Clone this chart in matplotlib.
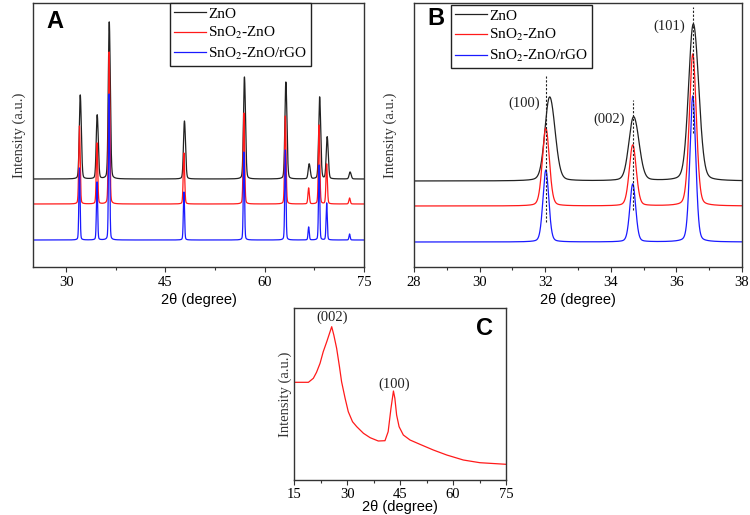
import numpy as np
import matplotlib
matplotlib.use('Agg')
import matplotlib.pyplot as plt
from matplotlib.ticker import MultipleLocator

plt.rcParams['font.family'] = ['Liberation Serif', 'DejaVu Serif']
plt.rcParams['mathtext.fontset'] = 'stix'

# ---------------- data ----------------
# Panels A/B: XRD reflections of ZnO (2θ in degrees) and peak heights (a.u.)
series_labels = ['ZnO', 'SnO$_2$-ZnO', 'SnO$_2$-ZnO/rGO']
peak_pos = [32.02, 34.67, 36.50, 47.80, 56.86, 63.12, 66.64, 68.22, 69.36, 72.82]
zno_pos = [32.10, 34.66, 36.48, 47.84, 56.90, 63.16, 66.68, 68.26, 69.40, 72.86]
zno_h = [84, 64, 157, 58, 102, 97, 15, 82, 42, 7]
sno2_zno_h = [78, 61, 152, 51, 91, 88, 16, 79, 40, 6]
sno2_zno_rgo_h = [72, 58, 146, 48, 88, 90, 13, 75, 37, 6]

# Panel B annotations
b_hkl = ['(100)', '(002)', '(101)']
b_hkl_x = [31.35, 33.95, 35.78]
b_hkl_y = [164, 148, 241]
b_ref_x = [32.02, 34.67, 36.50]
b_ref_y0 = [45, 57, 134]
b_ref_y1 = [191, 167, 260]

# Panel C: rGO pattern
c_x = [15, 19.0, 20.4, 21.3, 22.3, 23.2, 24.2, 25.6, 26.2, 27.0, 27.8, 28.4, 29.4,
       30.3, 31.5, 32.7, 34.6, 36.5, 38.8, 40.7, 41.6, 42.4, 43.1, 43.5, 44.0, 44.7,
       45.9, 47.8, 50.6, 54.4, 58.2, 62.9, 67.6, 75]
c_y = [97.7, 97.7, 101.7, 107.7, 116.7, 128.3, 138.3, 153.3, 145, 131.7, 113.3, 98.3,
       81.7, 68.3, 58.3, 53.3, 46.7, 42.3, 39, 39.3, 48.3, 71.7, 89, 81.7, 65, 53.3,
       45, 40, 35.7, 30, 25, 20, 17.3, 15.7]
c_hkl = ['(002)', '(100)']
c_hkl_x = [25.6, 43.3]
c_hkl_y = [162.7, 96]


# ---------------- helpers ----------------
def pv(x, c, fwhm, eta=0.2):
    d = (x - c) / fwhm
    return eta / (1 + 4 * d ** 2) + (1 - eta) * np.exp(-4 * np.log(2) * d ** 2)


def pattern(x, pos, heights, fwhm, ka2=0.0, ratio=0.0):
    y = np.zeros_like(x)
    for c, h in zip(pos, heights):
        xs = np.linspace(c - 1, c + 1, 4001)
        m = (pv(xs, c, fwhm) + ratio * pv(xs, c + ka2, fwhm)).max()
        y += h * (pv(x, c, fwhm) + ratio * pv(x, c + ka2, fwhm)) / m
    return y


BLACK = '#222222'
RED = '#ff1a1a'
BLUE = '#1a1aff'
SPINE = '#333333'

fig = plt.figure(figsize=(7.5, 5.15), dpi=100)
axA = fig.add_axes([33 / 750, 248 / 515, 331 / 750, 264 / 515])
axB = fig.add_axes([414 / 750, 248 / 515, 328 / 750, 264 / 515])
axC = fig.add_axes([294.3 / 750, 35 / 515, 211.7 / 750, 172 / 515])


def style(ax, xlim, major, minor, ylim, ylabelpad, xlabelpad, tickpad=2.5):
    ax.set_xlim(*xlim)
    ax.set_ylim(*ylim)
    ax.xaxis.set_major_locator(MultipleLocator(major))
    ax.xaxis.set_minor_locator(MultipleLocator(minor))
    ax.set_yticks([])
    ax.tick_params(axis='x', which='major', direction='out', length=3.8, width=0.8,
                   labelsize=10.5, pad=tickpad, color=SPINE)
    ax.tick_params(axis='x', which='minor', direction='out', length=2.2, width=0.8, color=SPINE)
    for s in ax.spines.values():
        s.set_color(SPINE)
        s.set_linewidth(1.0)
    ax.set_ylabel('Intensity (a.u.)', fontsize=10.5, labelpad=ylabelpad, color='#333333')
    ax.set_xlabel('2θ (degree)', fontsize=10.5, family=['Liberation Sans', 'DejaVu Sans'],
                  labelpad=xlabelpad)


def legend(ax, anchor):
    leg = ax.legend(loc='upper left', bbox_to_anchor=anchor, borderaxespad=0,
                    fontsize=11, frameon=True, fancybox=False, edgecolor='#222222',
                    framealpha=1, handlelength=2.1, handletextpad=0.15, labelspacing=0.3,
                    borderpad=0.3, borderaxespad_=None) if False else ax.legend(
        loc='upper left', bbox_to_anchor=anchor, borderaxespad=0,
        fontsize=11, frameon=True, fancybox=False, edgecolor='#222222',
        framealpha=1, handlelength=2.1, handletextpad=0.15, labelspacing=0.3,
        borderpad=0.25)
    leg.get_frame().set_linewidth(1.0)


BLACK_W, KA2, KA2_R = 0.31, 0.15, 0.5
RED_W, BLUE_W = 0.25, 0.21

# ---- Panel A ----
xa = np.linspace(25, 75, 20001)
offsA = [88, 63, 27]
axA.plot(xa, offsA[0] + pattern(xa, zno_pos, zno_h, BLACK_W, KA2, KA2_R), color=BLACK,
         lw=0.9, label=series_labels[0])
axA.plot(xa, offsA[1] + pattern(xa, peak_pos, sno2_zno_h, RED_W), color=RED, lw=0.9,
         label=series_labels[1])
axA.plot(xa, offsA[2] + pattern(xa, peak_pos, sno2_zno_rgo_h, BLUE_W), color=BLUE, lw=0.9,
         label=series_labels[2])
style(axA, (25, 75), 15, 7.5, (0, 264), 5, 3)
legend(axA, (0.414, 1.0))
axA.text(0.065, 0.93, 'A', transform=axA.transAxes, fontsize=17, fontweight='bold',
         family=['Liberation Sans', 'DejaVu Sans'], ha='center', va='center')

# ---- Panel B ----
xb = np.linspace(28, 38, 20001)
offsB = [86, 61, 25]
axB.plot(xb, offsB[0] + pattern(xb, zno_pos, zno_h, BLACK_W, KA2, KA2_R), color=BLACK,
         lw=0.9, label=series_labels[0])
axB.plot(xb, offsB[1] + pattern(xb, peak_pos, sno2_zno_h, RED_W), color=RED, lw=0.9,
         label=series_labels[1])
axB.plot(xb, offsB[2] + pattern(xb, peak_pos, sno2_zno_rgo_h, BLUE_W), color=BLUE, lw=0.9,
         label=series_labels[2])
for xr, y0, y1 in zip(b_ref_x, b_ref_y0, b_ref_y1):
    axB.plot([xr, xr], [y0, y1], color='#222222', lw=0.8, ls=(0, (2, 1.5)))
for t, xx, yy in zip(b_hkl, b_hkl_x, b_hkl_y):
    axB.text(xx, yy, t, fontsize=10.5, ha='center', va='center', color='#222222')
style(axB, (28, 38), 2, 1, (0, 264), 12, 3)
legend(axB, (0.113, 0.992))
axB.text(0.067, 0.94, 'B', transform=axB.transAxes, fontsize=17, fontweight='bold',
         family=['Liberation Sans', 'DejaVu Sans'], ha='center', va='center')

# ---- Panel C ----
axC.plot(c_x, c_y, color=RED, lw=0.9)
for t, xx, yy in zip(c_hkl, c_hkl_x, c_hkl_y):
    axC.text(xx, yy, t, fontsize=10.5, ha='center', va='center', color='#222222')
style(axC, (15, 75), 15, 7.5, (0, 172), 2, -1, tickpad=2)
axC.text(0.9, 0.88, 'C', transform=axC.transAxes, fontsize=17, fontweight='bold',
         family=['Liberation Sans', 'DejaVu Sans'], ha='center', va='center')

fig.savefig('out.png', dpi=100)
